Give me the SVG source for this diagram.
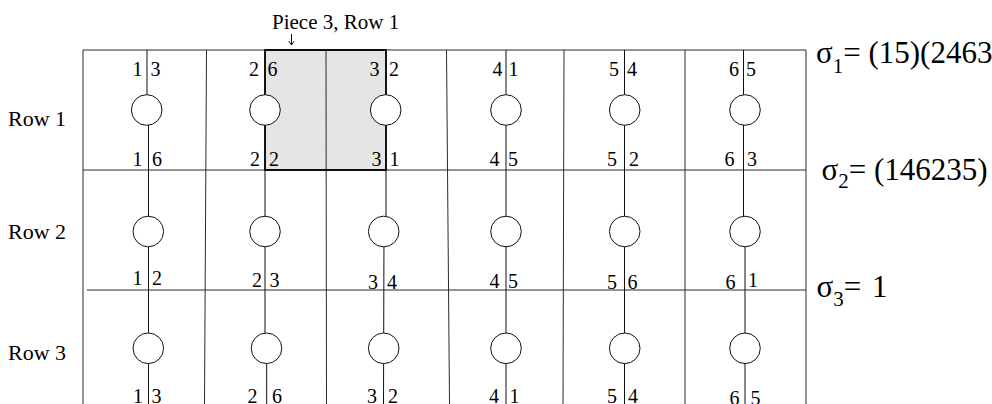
<svg xmlns="http://www.w3.org/2000/svg" width="992" height="404" viewBox="0 0 992 404">
<style>
text{font-family:"Liberation Serif","Times New Roman",serif;fill:#000}
.d{font-size:20px}
.lbl{font-size:22px}
.pc{font-size:21px}
.sig{font-size:31px}
.sub{font-size:21px}
.g{stroke:#2a2a2a;stroke-width:1;fill:none}
.s{stroke:#111;stroke-width:1;fill:none}
.c{fill:#fff;stroke:#111;stroke-width:1}
</style>
<rect x="0" y="0" width="992" height="404" fill="#fff"/>
<g id="highlight">
<rect x="265" y="50" width="121" height="120" fill="#e5e5e5"/>
</g>
<g id="grid" class="g">
<line x1="83" y1="50" x2="806" y2="50"/>
<line x1="83" y1="170" x2="806" y2="170"/>
<line x1="87" y1="290" x2="806" y2="290"/>
<line x1="83" y1="50" x2="83" y2="404"/>
<line x1="206.5" y1="50" x2="204.5" y2="404"/>
<line x1="326" y1="50" x2="326.5" y2="404"/>
<line x1="446.5" y1="50" x2="449.5" y2="404"/>
<line x1="564" y1="50" x2="563" y2="404"/>
<line x1="685" y1="50" x2="685" y2="404"/>
<line x1="806" y1="50" x2="806" y2="404"/>
</g>
<g id="piece-box">
<rect x="265" y="50" width="121" height="120" fill="none" stroke="#000" stroke-width="1.8"/>
</g>
<g id="connectors" class="s">
<line x1="147" y1="50" x2="147" y2="110"/>
<line x1="148.5" y1="110" x2="148.5" y2="404"/>
<line x1="265" y1="50" x2="265" y2="348"/>
<line x1="266.7" y1="348" x2="266.7" y2="404"/>
<line x1="386" y1="50" x2="386" y2="231"/>
<line x1="384" y1="231" x2="383.5" y2="404"/>
<line x1="506" y1="50" x2="506" y2="404"/>
<line x1="624.5" y1="50" x2="624.5" y2="404"/>
<line x1="743.5" y1="50" x2="743.5" y2="231"/>
<line x1="745" y1="231" x2="745" y2="404"/>
<path d="M291.5,34 V45 M288.8,41.2 L291.5,45 L294.2,41.2"/>
</g>
<text id="piece-label" class="pc" x="272" y="29">Piece 3, Row 1</text>
<g id="row-labels">
<text class="lbl" x="8" y="125.5">Row 1</text>
<text class="lbl" x="8" y="238.5">Row 2</text>
<text class="lbl" x="8" y="359.5">Row 3</text>
</g>
<g id="r1c1"><circle class="c" cx="146.7" cy="110" r="15.3"/><text class="d" x="132.5" y="76">1</text><text class="d" x="150.5" y="76">3</text><text class="d" x="132.5" y="166">1</text><text class="d" x="152" y="166">6</text></g>
<g id="r1c2"><circle class="c" cx="265" cy="110" r="15.3"/><text class="d" x="249" y="76">2</text><text class="d" x="267.5" y="76">6</text><text class="d" x="250" y="166">2</text><text class="d" x="269" y="166">2</text></g>
<g id="r1c3"><circle class="c" cx="385.7" cy="110" r="15.3"/><text class="d" x="369.5" y="76">3</text><text class="d" x="389" y="76">2</text><text class="d" x="371.5" y="166">3</text><text class="d" x="389.5" y="166">1</text></g>
<g id="r1c4"><circle class="c" cx="506" cy="110" r="15.3"/><text class="d" x="492.5" y="76">4</text><text class="d" x="508.5" y="76">1</text><text class="d" x="489.5" y="166">4</text><text class="d" x="508" y="166">5</text></g>
<g id="r1c5"><circle class="c" cx="624.7" cy="110" r="15.3"/><text class="d" x="609" y="76">5</text><text class="d" x="627" y="76">4</text><text class="d" x="607" y="166">5</text><text class="d" x="629" y="166">2</text></g>
<g id="r1c6"><circle class="c" cx="745" cy="110" r="15.3"/><text class="d" x="729" y="76">6</text><text class="d" x="746" y="76">5</text><text class="d" x="724.5" y="166">6</text><text class="d" x="747" y="166">3</text></g>
<g id="r2c1"><circle class="c" cx="148.3" cy="231.5" r="15.3"/><text class="d" x="132.5" y="285">1</text><text class="d" x="152" y="285">2</text></g>
<g id="r2c2"><circle class="c" cx="265" cy="231.5" r="15.3"/><text class="d" x="252" y="286.5">2</text><text class="d" x="269.5" y="286.5">3</text></g>
<g id="r2c3"><circle class="c" cx="383.7" cy="231.5" r="15.3"/><text class="d" x="368" y="289">3</text><text class="d" x="387" y="289">4</text></g>
<g id="r2c4"><circle class="c" cx="506" cy="231.5" r="15.3"/><text class="d" x="489.5" y="287.5">4</text><text class="d" x="508" y="287.5">5</text></g>
<g id="r2c5"><circle class="c" cx="624.7" cy="231.5" r="15.3"/><text class="d" x="607" y="289">5</text><text class="d" x="627.5" y="289">6</text></g>
<g id="r2c6"><circle class="c" cx="745" cy="231.5" r="15.3"/><text class="d" x="725.5" y="289">6</text><text class="d" x="748" y="286.5">1</text></g>
<g id="r3c1"><circle class="c" cx="148.3" cy="348.3" r="15.3"/><text class="d" x="133" y="403">1</text><text class="d" x="151.5" y="403">3</text></g>
<g id="r3c2"><circle class="c" cx="266.5" cy="348.3" r="15.3"/><text class="d" x="247.5" y="403">2</text><text class="d" x="272" y="403">6</text></g>
<g id="r3c3"><circle class="c" cx="383.7" cy="348.3" r="15.3"/><text class="d" x="367" y="403">3</text><text class="d" x="388" y="403">2</text></g>
<g id="r3c4"><circle class="c" cx="506" cy="348.3" r="15.3"/><text class="d" x="489" y="403">4</text><text class="d" x="509.5" y="403">1</text></g>
<g id="r3c5"><circle class="c" cx="624.7" cy="348.3" r="15.3"/><text class="d" x="607" y="403">5</text><text class="d" x="628" y="403">4</text></g>
<g id="r3c6"><circle class="c" cx="745" cy="348.3" r="15.3"/><text class="d" x="729.5" y="404.5">6</text><text class="d" x="750.5" y="404.5">5</text></g>
<g id="sigmas">
<text class="sig" x="816" y="63">σ<tspan class="sub" dy="10">1</tspan><tspan dy="-10">= (15)(2463</tspan></text>
<text class="sig" x="821.5" y="180">σ<tspan class="sub" dy="8">2</tspan><tspan dy="-8">= (146235)</tspan></text>
<text class="sig" x="816.5" y="297">σ<tspan class="sub" dy="9">3</tspan><tspan dy="-9">= </tspan><tspan x="872">1</tspan></text>
</g>
</svg>
